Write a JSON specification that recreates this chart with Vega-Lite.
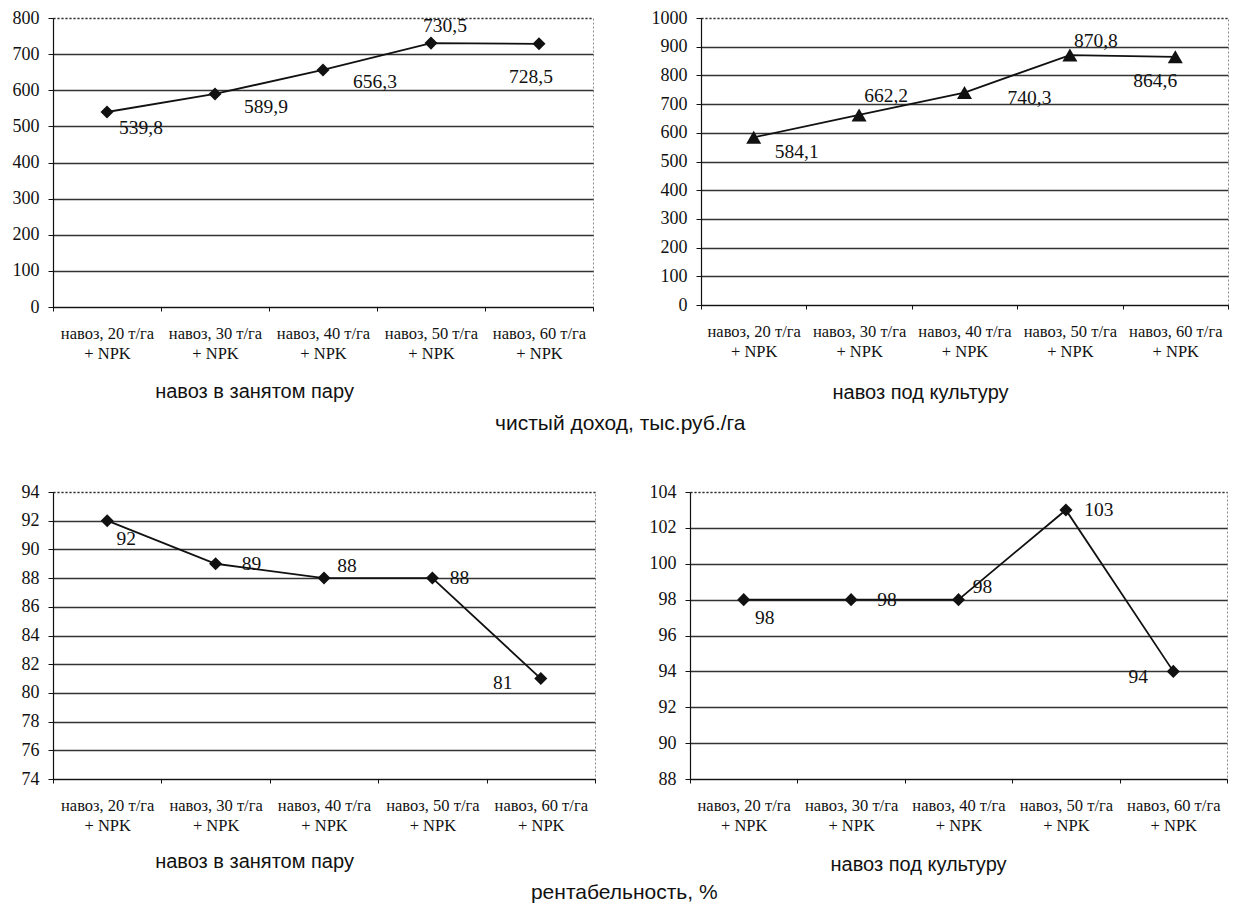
{
  "$schema": "https://vega.github.io/schema/vega-lite/v6.json",
  "padding": {"left": 11, "top": 8, "right": 0, "bottom": 0},
  "background": "white",
  "spacing": 48,
  "config": {
    "locale": {"number": {"decimal": ",", "thousands": "\u00a0", "grouping": [3], "currency": ["", ""]}},
    "view": {"stroke": "#8a8a8a", "strokeDash": [2, 2], "strokeWidth": 1},
    "axis": {"labelColor": "#111", "domainColor": "#111", "tickColor": "#111", "gridColor": "#333", "gridWidth": 1.3, "titleFont": "Liberation Sans", "titleFontWeight": "normal", "titleColor": "#111", "titleFontSize": 20},
    "axisY": {"labelFont": "Liberation Serif", "labelFontSize": 18, "labelPadding": 9, "tickSize": 5, "domainWidth": 1.2, "grid": true, "format": "d"},
    "axisX": {"labelFont": "Liberation Serif", "labelFontSize": 16.5, "labelAngle": 0, "labelLineHeight": 20, "labelPadding": 14, "tickSize": 4, "tickBand": "extent", "grid": false, "domainWidth": 1.2, "labelOverlap": false, "titleBaseline": "middle", "titleAlign": "center", "labelExpr": "datum.label ? ['навоз, ' + datum.label + ' т/га', '+ NPK'] : ''"},
    "title": {"font": "Liberation Sans", "fontSize": 21, "fontWeight": "normal", "color": "#111"},
    "text": {"font": "Liberation Serif", "fontSize": 19.5, "color": "#111"}
  },
  "datasets": {
    "d1": [{"dose": 20, "v": 539.8}, {"dose": 30, "v": 589.9}, {"dose": 40, "v": 656.3}, {"dose": 50, "v": 730.5}, {"dose": 60, "v": 728.5}],
    "d2": [{"dose": 20, "v": 584.1}, {"dose": 30, "v": 662.2}, {"dose": 40, "v": 740.3}, {"dose": 50, "v": 870.8}, {"dose": 60, "v": 864.6}],
    "d3": [{"dose": 20, "v": 92}, {"dose": 30, "v": 89}, {"dose": 40, "v": 88}, {"dose": 50, "v": 88}, {"dose": 60, "v": 81}],
    "d4": [{"dose": 20, "v": 98}, {"dose": 30, "v": 98}, {"dose": 40, "v": 98}, {"dose": 50, "v": 103}, {"dose": 60, "v": 94}]
  },
  "vconcat": [
    {
      "spacing": 56,
      "title": {"text": "чистый доход, тыс.руб./га", "orient": "bottom", "anchor": "middle", "offset": 10},
      "hconcat": [
        {
          "width": 540, "height": 289,
          "data": {"name": "d1"},
          "encoding": {
            "x": {"field": "dose", "type": "ordinal", "scale": {"type": "band", "paddingInner": 0, "paddingOuter": 0}, "axis": {"title": "навоз в занятом пару", "titleX": 201, "titleY": 84}},
            "y": {"field": "v", "type": "quantitative", "scale": {"domain": [0, 800], "nice": false, "zero": false}, "axis": {"title": null, "values": [0, 100, 200, 300, 400, 500, 600, 700, 800], "gridDash": {"condition": {"test": "datum.value === 800", "value": [2, 2]}, "value": []}}}
          },
          "layer": [
            {"mark": {"type": "line", "color": "#111", "strokeWidth": 1.8}},
            {"mark": {"type": "point", "shape": "diamond", "filled": true, "color": "#111", "size": 170, "opacity": 1}},
            {"transform": [{"filter": "datum.dose == 20"}], "mark": {"type": "text", "dx": 34, "dy": 16}, "encoding": {"text": {"field": "v", "type": "quantitative", "format": ".1f"}}},
            {"transform": [{"filter": "datum.dose == 30"}], "mark": {"type": "text", "dx": 51, "dy": 13}, "encoding": {"text": {"field": "v", "type": "quantitative", "format": ".1f"}}},
            {"transform": [{"filter": "datum.dose == 40"}], "mark": {"type": "text", "dx": 52, "dy": 12}, "encoding": {"text": {"field": "v", "type": "quantitative", "format": ".1f"}}},
            {"transform": [{"filter": "datum.dose == 50"}], "mark": {"type": "text", "dx": 14, "dy": -17}, "encoding": {"text": {"field": "v", "type": "quantitative", "format": ".1f"}}},
            {"transform": [{"filter": "datum.dose == 60"}], "mark": {"type": "text", "dx": -8, "dy": 33}, "encoding": {"text": {"field": "v", "type": "quantitative", "format": ".1f"}}}
          ]
        },
        {
          "width": 527, "height": 287,
          "data": {"name": "d2"},
          "encoding": {
            "x": {"field": "dose", "type": "ordinal", "scale": {"type": "band", "paddingInner": 0, "paddingOuter": 0}, "axis": {"title": "навоз под культуру", "titleX": 219, "titleY": 87}},
            "y": {"field": "v", "type": "quantitative", "scale": {"domain": [0, 1000], "nice": false, "zero": false}, "axis": {"title": null, "values": [0, 100, 200, 300, 400, 500, 600, 700, 800, 900, 1000], "gridDash": {"condition": {"test": "datum.value === 1000", "value": [2, 2]}, "value": []}}}
          },
          "layer": [
            {"mark": {"type": "line", "color": "#111", "strokeWidth": 1.8}},
            {"mark": {"type": "point", "shape": "triangle-up", "filled": true, "color": "#111", "size": 225, "opacity": 1}},
            {"transform": [{"filter": "datum.dose == 20"}], "mark": {"type": "text", "dx": 43, "dy": 15}, "encoding": {"text": {"field": "v", "type": "quantitative", "format": ".1f"}}},
            {"transform": [{"filter": "datum.dose == 30"}], "mark": {"type": "text", "dx": 27, "dy": -19}, "encoding": {"text": {"field": "v", "type": "quantitative", "format": ".1f"}}},
            {"transform": [{"filter": "datum.dose == 40"}], "mark": {"type": "text", "dx": 65, "dy": 5}, "encoding": {"text": {"field": "v", "type": "quantitative", "format": ".1f"}}},
            {"transform": [{"filter": "datum.dose == 50"}], "mark": {"type": "text", "dx": 26, "dy": -14}, "encoding": {"text": {"field": "v", "type": "quantitative", "format": ".1f"}}},
            {"transform": [{"filter": "datum.dose == 60"}], "mark": {"type": "text", "dx": -20, "dy": 24}, "encoding": {"text": {"field": "v", "type": "quantitative", "format": ".1f"}}}
          ]
        }
      ]
    },
    {
      "spacing": 52,
      "title": {"text": "рентабельность, %", "orient": "bottom", "anchor": "middle", "offset": 7},
      "hconcat": [
        {
          "width": 542, "height": 287,
          "data": {"name": "d3"},
          "encoding": {
            "x": {"field": "dose", "type": "ordinal", "scale": {"type": "band", "paddingInner": 0, "paddingOuter": 0}, "axis": {"title": "навоз в занятом пару", "titleX": 201, "titleY": 82}},
            "y": {"field": "v", "type": "quantitative", "scale": {"domain": [74, 94], "nice": false, "zero": false}, "axis": {"title": null, "values": [74, 76, 78, 80, 82, 84, 86, 88, 90, 92, 94], "gridDash": {"condition": {"test": "datum.value === 94", "value": [2, 2]}, "value": []}}}
          },
          "layer": [
            {"mark": {"type": "line", "color": "#111", "strokeWidth": 1.8}},
            {"mark": {"type": "point", "shape": "diamond", "filled": true, "color": "#111", "size": 170, "opacity": 1}},
            {"transform": [{"filter": "datum.dose == 20"}], "mark": {"type": "text", "dx": 19, "dy": 18}, "encoding": {"text": {"field": "v", "type": "quantitative", "format": ".0f"}}},
            {"transform": [{"filter": "datum.dose == 30"}], "mark": {"type": "text", "dx": 36, "dy": 0}, "encoding": {"text": {"field": "v", "type": "quantitative", "format": ".0f"}}},
            {"transform": [{"filter": "datum.dose == 40"}], "mark": {"type": "text", "dx": 23, "dy": -12}, "encoding": {"text": {"field": "v", "type": "quantitative", "format": ".0f"}}},
            {"transform": [{"filter": "datum.dose == 50"}], "mark": {"type": "text", "dx": 27, "dy": 0}, "encoding": {"text": {"field": "v", "type": "quantitative", "format": ".0f"}}},
            {"transform": [{"filter": "datum.dose == 60"}], "mark": {"type": "text", "dx": -38, "dy": 4}, "encoding": {"text": {"field": "v", "type": "quantitative", "format": ".0f"}}}
          ]
        },
        {
          "width": 537, "height": 287,
          "data": {"name": "d4"},
          "encoding": {
            "x": {"field": "dose", "type": "ordinal", "scale": {"type": "band", "paddingInner": 0, "paddingOuter": 0}, "axis": {"title": "навоз под культуру", "titleX": 228, "titleY": 85}},
            "y": {"field": "v", "type": "quantitative", "scale": {"domain": [88, 104], "nice": false, "zero": false}, "axis": {"title": null, "values": [88, 90, 92, 94, 96, 98, 100, 102, 104], "gridDash": {"condition": {"test": "datum.value === 104", "value": [2, 2]}, "value": []}}}
          },
          "layer": [
            {"mark": {"type": "line", "color": "#111", "strokeWidth": 1.8}},
            {"mark": {"type": "point", "shape": "diamond", "filled": true, "color": "#111", "size": 170, "opacity": 1}},
            {"transform": [{"filter": "datum.dose == 20"}], "mark": {"type": "text", "dx": 21, "dy": 18}, "encoding": {"text": {"field": "v", "type": "quantitative", "format": ".0f"}}},
            {"transform": [{"filter": "datum.dose == 30"}], "mark": {"type": "text", "dx": 36, "dy": 0}, "encoding": {"text": {"field": "v", "type": "quantitative", "format": ".0f"}}},
            {"transform": [{"filter": "datum.dose == 40"}], "mark": {"type": "text", "dx": 24, "dy": -13}, "encoding": {"text": {"field": "v", "type": "quantitative", "format": ".0f"}}},
            {"transform": [{"filter": "datum.dose == 50"}], "mark": {"type": "text", "dx": 33, "dy": 0}, "encoding": {"text": {"field": "v", "type": "quantitative", "format": ".0f"}}},
            {"transform": [{"filter": "datum.dose == 60"}], "mark": {"type": "text", "dx": -35, "dy": 6}, "encoding": {"text": {"field": "v", "type": "quantitative", "format": ".0f"}}}
          ]
        }
      ]
    }
  ]
}
